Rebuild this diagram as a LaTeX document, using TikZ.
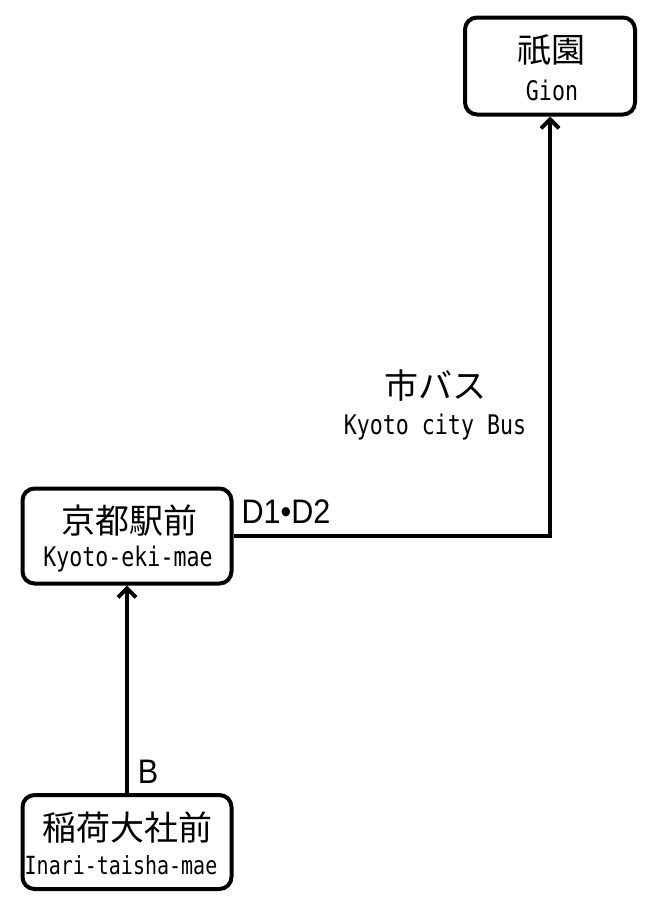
\documentclass[tikz,border=0pt]{standalone}
\usepackage{fontspec}
\setmainfont{Liberation Sans}
\newfontfamily\jpfont{Noto Sans CJK JP}
\newfontfamily\romfont[FakeStretch=0.8]{DejaVu Sans Mono}
\newfontfamily\lblfont[FakeStretch=0.9]{Liberation Sans}
\usetikzlibrary{arrows.meta}
\begin{document}
\begin{tikzpicture}[x=1pt,y=-1pt,
  station/.style={draw,line width=4pt,rounded corners=12pt,fill=white,inner sep=0pt},
  conn/.style={line width=4pt,-{Straight Barb[length=9pt,width=18pt,line width=4pt]}},
  jp/.style={font=\jpfont\fontsize{34}{36}\selectfont,inner sep=0pt},
  rom/.style={font=\romfont\fontsize{27}{29}\selectfont,inner sep=0pt},
  lbl/.style={font=\lblfont\fontsize{34}{36}\selectfont,inner sep=0pt}]
\useasboundingbox (0,0) rectangle (660,911);
% boxes
\node[station,minimum width=170pt,minimum height=97pt] (gion) at (550,66) {};
\node[station,minimum width=209pt,minimum height=95pt] (kyoto) at (127,536) {};
\node[station,minimum width=209pt,minimum height=94pt] (inari) at (127,842) {};
% texts
\node[jp] (gionj) at (551,50) {祇園};
\node[rom] (gionr) at (552,90) {Gion};
\node[jp] (kyotoj) at (129,521) {京都駅前};
\node[rom] (kyotor) at (128,559) {Kyoto-eki-mae};
\node[jp] (inarij) at (127,828) {稲荷大社前};
\node[rom,font=\romfont\fontsize{25}{27}\selectfont] (inarir) at (121,865) {Inari-taisha-mae};
% connectors
\coordinate (corner) at (550,536);
\draw[conn] (kyoto.east) -- (corner) -- (gion.south);
\draw[conn] (inari.north) -- (kyoto.south);
% labels
\node[lbl] (d12) at (286,512) {D1•D2};
\node[lbl] (bl) at (148,772) {B};
\node[jp] (busj) at (435,386) {市バス};
\node[rom] (busr) at (435,427) {Kyoto city Bus};
\end{tikzpicture}
\end{document}
